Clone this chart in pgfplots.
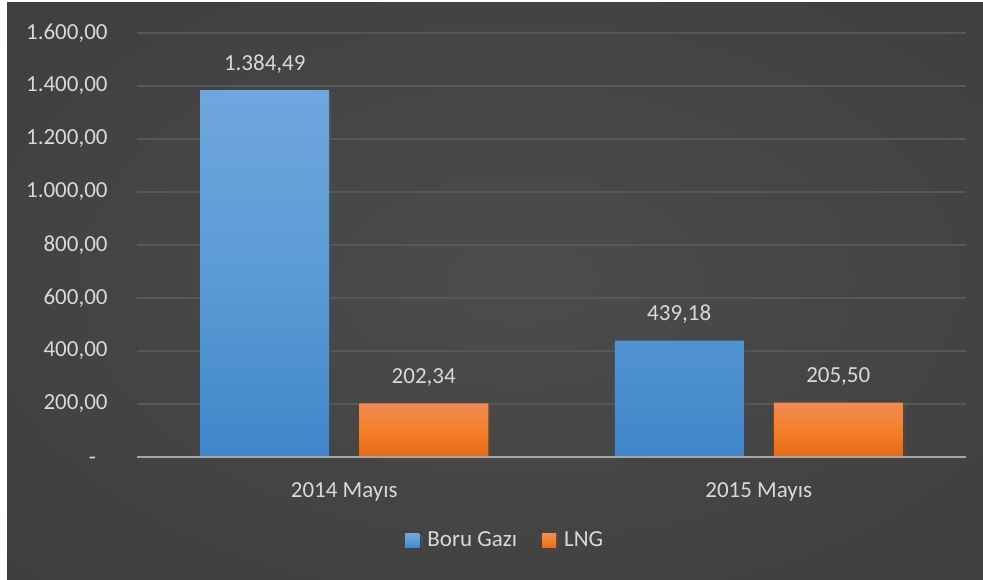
\documentclass[border=0pt]{standalone}
\usepackage{pgfplots}
\pgfplotsset{compat=1.18}
\usepackage{fontspec}
\setmainfont{Carlito}
\usetikzlibrary{shadows}

\definecolor{bgin}{HTML}{4C4C4C}
\definecolor{bgout}{HTML}{262626}
\definecolor{txt}{HTML}{D9D9D9}
\definecolor{gridc}{HTML}{575757}
\definecolor{zeroc}{HTML}{A6A6A6}
\definecolor{blueT}{HTML}{70A6DD}
\definecolor{blueM}{HTML}{5B9BD5}
\definecolor{blueB}{HTML}{4186C9}
\definecolor{orT}{HTML}{F08C55}
\definecolor{orM}{HTML}{F47F2B}
\definecolor{orB}{HTML}{E46A16}
\pgfdeclareradialshading{bgshade}{\pgfpoint{0bp}{0bp}}{color(0bp)=(bgin); color(50bp)=(bgout)}

\newcommand{\lbl}{\fontsize{11.5}{13}\selectfont}

\begin{document}
\begin{tikzpicture}[x=1pt,y=1pt]
% page and dark background
\fill[white] (0,0) rectangle (491.5,289.5);
\begin{scope}
  \clip (3.5,0) rectangle (491.5,288);
  \shade[shading=bgshade] (-230,-140.5) rectangle (750,439.5);
\end{scope}

\begin{axis}[
    at={(68.5pt,61pt)}, anchor=south west,
    scale only axis, width=414.5pt, height=212pt,
    xmin=-0.5, xmax=1.5, ymin=0, ymax=1600,
    clip=false,
    ybar, bar width=0.3112,
    axis line style={draw=none},
    major tick length=0pt,
    xtick={0,1}, xticklabels={2014 Mayıs, 2015 Mayıs},
    ytick={0,200,...,1600},
    yticklabels={-\phantom{0},{200,00},{400,00},{600,00},{800,00},{1.000,00},{1.200,00},{1.400,00},{1.600,00}},
    ymajorgrids, grid style={gridc, line width=0.75pt},
    tick label style={font=\lbl, text=txt},
    yticklabel style={anchor=east, inner sep=0pt, xshift=-14.5pt},
    xticklabel style={anchor=base, inner sep=0pt, yshift=-20pt},
    /pgf/number format/assume math mode=true,
    nodes near coords={\pgfmathprintnumber[fixed,fixed zerofill,precision=2,use comma,1000 sep={.}]{\pgfplotspointmeta}},
    every node near coord/.append style={font=\lbl, text=txt, anchor=base, inner sep=0pt, yshift=10pt},
    legend columns=2,
    legend style={at={(0.4455,-0.198)}, anchor=center, draw=none, fill=none,
      text=txt, font=\lbl, /tikz/every even column/.append style={column sep=10.5pt}},
]
\addplot[draw=none, bar shift=-0.1918, top color=blueT, bottom color=blueB, middle color=blueM,
    drop shadow={shadow xshift=1.5pt, shadow yshift=-1pt, fill=black, opacity=0.2},
    legend image code/.code={\fill[blueM] (0pt,-3.5pt) rectangle (7pt,3.5pt); \path (9pt,0pt);}]
    coordinates {(0,1384.49) (1,439.18)};
\addplot[draw=none, bar shift=0.1918, top color=orT, bottom color=orB, middle color=orM,
    drop shadow={shadow xshift=1.5pt, shadow yshift=-1pt, fill=black, opacity=0.2},
    legend image code/.code={\fill[orM] (0pt,-3.5pt) rectangle (7pt,3.5pt); \path (9pt,0pt);}]
    coordinates {(0,202.34) (1,205.50)};
\legend{Boru Gazı, LNG}
\draw[zeroc, line width=1pt] (axis cs:-0.5,0) -- (axis cs:1.5,0);
\end{axis}
\end{tikzpicture}
\end{document}
